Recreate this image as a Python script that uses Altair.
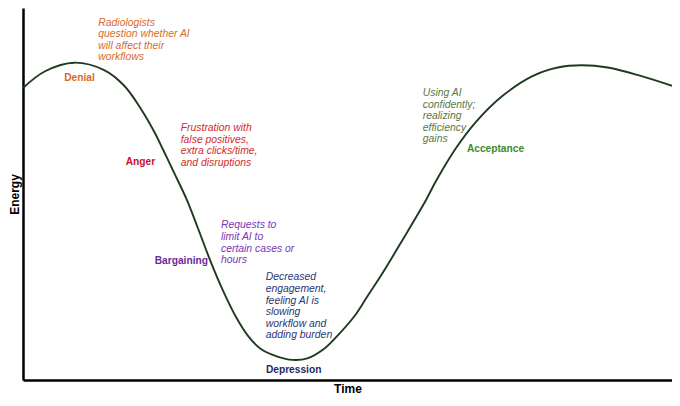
import altair as alt
import pandas as pd

# Curve (Time 0-100, Energy 0-100)
time = [0, 3.4, 7.9, 12.5, 15.6, 18.2, 20.2, 21.7, 23.2, 25.2,
        27.0, 28.9, 30.8, 32.8, 34.7, 36.6, 39.2, 41.5, 43.8, 46.4,
        48.4, 51.0, 53.0, 55.6, 58.6, 62.1, 63.7, 66.7, 69.8, 73.9,
        78.5, 82.4, 86.1, 90.1, 95.3, 100]
energy = [78.5, 83.0, 85.3, 83.3, 79.1, 72.8, 66.8, 61.5, 56.0, 48.6,
          40.6, 31.9, 24.1, 17.0, 11.8, 8.4, 6.3, 5.4, 5.8, 8.4,
          11.8, 17.0, 22.3, 29.3, 38.0, 48.4, 53.7, 62.3, 69.4, 76.4,
          81.7, 84.0, 84.6, 84.0, 81.7, 79.1]

# Stage labels
stages = ["Denial", "Anger", "Bargaining", "Depression", "Acceptance"]
stage_time = [8.7, 18.1, 24.4, 41.7, 72.8]
stage_energy = [81.2, 58.6, 32.1, 2.8, 62.1]
stage_colors = ["#d4692c", "#c8102e", "#6a2aa0", "#1c2a66", "#3c8a2c"]

# Stage descriptions
descriptions = [
    "Radiologists\nquestion whether AI\nwill affect their\nworkflows",
    "Frustration with\nfalse positives,\nextra clicks/time,\nand disruptions",
    "Requests to\nlimit AI to\ncertain cases or\nhours",
    "Decreased\nengagement,\nfeeling AI is\nslowing\nworkflow and\nadding burden",
    "Using AI\nconfidently;\nrealizing\nefficiency\ngains",
]
desc_time = [11.6, 24.3, 30.5, 37.4, 61.6]
desc_energy = [97.4, 69.1, 42.9, 28.9, 78.5]
desc_colors = ["#d96a2b", "#d42a2a", "#7a35b8", "#2a3675", "#557a45"]

curve_df = pd.DataFrame({"Time": time, "Energy": energy})
stage_df = pd.DataFrame({"label": stages, "Time": stage_time,
                         "Energy": stage_energy, "color": stage_colors})
desc_df = pd.DataFrame({"label": descriptions, "Time": desc_time,
                        "Energy": desc_energy, "color": desc_colors})

FONT = "Liberation Sans"

x = alt.X("Time:Q", title="Time", scale=alt.Scale(domain=[0, 100], nice=False, zero=False),
          axis=alt.Axis(labels=False, ticks=False, grid=False, domainColor="black",
                        domainWidth=2.5, titleFontSize=12, titleFontWeight="bold",
                        titleFont=FONT, titlePadding=3, titleColor="black"))
y = alt.Y("Energy:Q", title="Energy", scale=alt.Scale(domain=[0, 100], nice=False, zero=False),
          axis=alt.Axis(labels=False, ticks=False, grid=False, domainColor="black",
                        domainWidth=2.5, titleFontSize=12, titleFontWeight="bold",
                        titleFont=FONT, titlePadding=2, titleColor="black"))

curve = alt.Chart(curve_df).mark_line(
    color="#1f3a1f", strokeWidth=1.9, interpolate="catmull-rom"
).encode(x=x, y=y)

stage_text = alt.Chart(stage_df).mark_text(
    font=FONT, fontSize=10.2, fontWeight="bold", align="center", baseline="middle"
).encode(x="Time:Q", y="Energy:Q", text="label:N",
         color=alt.Color("color:N", scale=None))

desc_text = alt.Chart(desc_df).mark_text(
    font=FONT, fontSize=10.4, fontStyle="italic", align="left", baseline="top",
    lineBreak="\n", lineHeight=11.6
).encode(x="Time:Q", y="Energy:Q", text="label:N",
         color=alt.Color("color:N", scale=None))

chart = alt.layer(curve, stage_text, desc_text).properties(
    width=649, height=372, autosize="none",
    padding={"left": 15, "top": 0, "right": 0, "bottom": 18},
    background="white",
).configure_view(stroke=None)

chart.save("out.html", embed_options={"renderer": "svg", "actions": False})
